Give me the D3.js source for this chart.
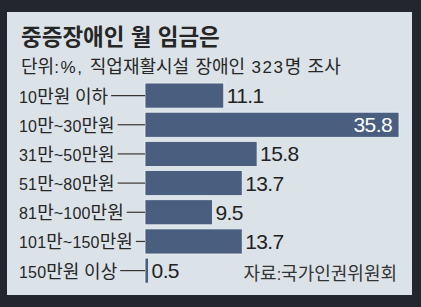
<!DOCTYPE html>
<html lang="ko">
<head>
<meta charset="utf-8">
<script src="https://cdn.jsdelivr.net/npm/d3@7"></script>
<style>
  html, body { margin: 0; padding: 0; background: #24262f; }
  svg { display: block; }
  text { font-family: "Liberation Sans", "Noto Sans CJK KR", sans-serif; }
</style>
</head>
<body>
<div class="graphique"></div>
<script>
// Données
const categories = ["10만원 이하", "10만~30만원", "31만~50만원", "51만~80만원", "81만~100만원", "101만~150만원", "150만원 이상"];
const values = [11.1, 35.8, 15.8, 13.7, 9.5, 13.7, 0.5];
const valueLabels = ["11.1", "35.8", "15.8", "13.7", "9.5", "13.7", "0.5"];

const title = "중증장애인 월 임금은";
const subtitle = "단위:%, 직업재활시설 장애인 323명 조사";
const source = "자료:국가인권위원회";

const width = 421;
const height = 307;

const data = categories.map((c, i) => ({ cat: c, value: values[i], label: valueLabels[i] }));

// découpe le texte en morceaux coréens / latins pour leur donner une taille différente
const hangul = /[\uac00-\ud7a3]/;
function richText(sel, str, kr, lat, latSpacing) {
    const runs = str.match(/[\uac00-\ud7a3]+|[^\uac00-\ud7a3]+/g);
    sel.selectAll('tspan')
        .data(runs)
        .join('tspan')
        .attr('font-size', d => hangul.test(d) ? kr : lat)
        .attr('letter-spacing', d => hangul.test(d) ? 0 : latSpacing)
        .text(d => d);
}

const svg = d3.select('.graphique').append('svg')
    .attr('width', width)
    .attr('height', height);

// fond clair
svg.append('rect')
    .attr('x', 7).attr('y', 12)
    .attr('width', 405).attr('height', 283)
    .attr('fill', '#dce3e8');

svg.append('text')
    .attr('x', 21).attr('y', 45)
    .attr('font-size', 22.5)
    .attr('font-weight', 'bold')
    .attr('fill', '#262626')
    .text(title);

svg.append('text')
    .attr('x', 21).attr('y', 73)
    .attr('fill', '#262626')
    .call(richText, subtitle, 18, 17, 1.6);

const x = d3.scaleLinear().domain([0, 35.8]).range([145, 399]);
const y = d3.scaleBand()
    .domain(categories)
    .range([81, 285.2])
    .paddingInner(0.14)
    .paddingOuter(0.07);

// barres
svg.selectAll('rect.bar')
    .data(data)
    .join('rect')
    .attr('class', 'bar')
    .attr('x', x(0))
    .attr('y', d => y(d.cat))
    .attr('width', d => x(d.value) - x(0))
    .attr('height', y.bandwidth())
    .attr('fill', '#4a5f7f')
    .attr('stroke', '#eef2f5')
    .attr('stroke-width', 0.8);

// étiquettes des catégories
const labels = svg.selectAll('text.cat')
    .data(data)
    .join('text')
    .attr('class', 'cat')
    .attr('x', 19)
    .attr('y', d => y(d.cat) + y.bandwidth() / 2 + 7)
    .attr('fill', '#262626')
    .each(function (d) { d3.select(this).call(richText, d.cat, 18, 16, 0.2); });

// petits traits entre étiquette et barre
labels.each(function (d) {
    const end = 19 + this.getComputedTextLength() + 3;
    if (end < x(0) - 2) {
        svg.append('line')
            .attr('x1', end).attr('x2', x(0))
            .attr('y1', y(d.cat) + y.bandwidth() / 2)
            .attr('y2', y(d.cat) + y.bandwidth() / 2)
            .attr('stroke', '#3b342e')
            .attr('stroke-width', 1.2);
    }
});

// valeurs
const maxVal = d3.max(values);
svg.selectAll('text.val')
    .data(data)
    .join('text')
    .attr('class', 'val')
    .attr('x', d => d.value === maxVal ? x(d.value) - 7 : x(d.value) + 3)
    .attr('y', d => y(d.cat) + y.bandwidth() / 2 + 7.5)
    .attr('text-anchor', d => d.value === maxVal ? 'end' : 'start')
    .attr('font-size', 21)
    .attr('letter-spacing', -0.6)
    .attr('fill', d => d.value === maxVal ? '#ffffff' : '#222222')
    .text(d => d.label);

svg.append('text')
    .attr('x', 397).attr('y', 280)
    .attr('text-anchor', 'end')
    .attr('fill', '#333333')
    .call(richText, source, 18, 16, 0);
</script>
</body>
</html>
